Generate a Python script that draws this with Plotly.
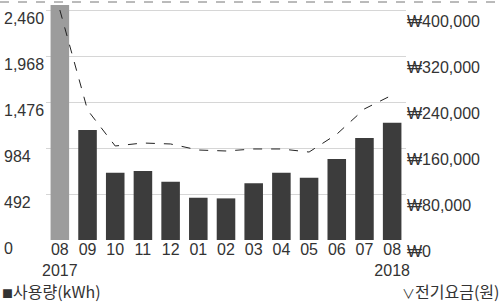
import plotly.graph_objects as go

# ---- data ----
months = ["08<br>2017", "09", "10", "11", "12", "01", "02", "03", "04", "05", "06", "07", "08<br>2018"]
usage_kwh = [2520, 1177, 720, 738, 624, 452, 445, 606, 720, 667, 866, 1091, 1255]
bill_won = [400000, 226000, 163500, 168700, 167000, 156500, 154800, 158300, 158300, 153000, 184000, 228000, 252000]
left_ticks = [0, 492, 984, 1476, 1968, 2460]
left_tick_text = ["0", "492", "984", "1,476", "1,968", "2,460"]
right_ticks = [0, 80000, 160000, 240000, 320000, 400000]
right_tick_text = ["₩0", "₩80,000", "₩160,000", "₩240,000", "₩320,000", "₩400,000"]
bar_colors = ["#9c9c9c"] + ["#3c3c3c"] * 12

W, H = 501, 303
T, B = 5, 63
plot_h = H - T - B
y_top = 2460 + (10 - T) * 2460 / (240 - 10)
y2_top = 400000 * y_top / 2460

x_idx = list(range(len(months)))

fig = go.Figure()
fig.add_trace(go.Bar(
    x=x_idx, y=usage_kwh, marker=dict(color=bar_colors, line=dict(width=0)),
    width=0.67, yaxis="y", showlegend=False,
))
fig.add_trace(go.Scatter(
    x=x_idx, y=bill_won, mode="lines", yaxis="y2",
    line=dict(color="#222222", width=1, dash="dash"), showlegend=False,
))

font_num = "Liberation Sans, Arial, sans-serif"
fig.update_layout(
    width=W, height=H,
    margin=dict(l=0, r=0, t=T, b=B, autoexpand=False),
    plot_bgcolor="white", paper_bgcolor="white",
    font=dict(family=font_num, size=16, color="#333333"),
    xaxis=dict(
        domain=[46 / W, 406 / W], range=[-0.5, 12.5], automargin=False,
        tickvals=x_idx, ticktext=months, tickangle=0, showgrid=False, zeroline=False,
        showline=False, ticks="", ticklabelstandoff=-2,
        tickfont=dict(size=16, color="#333333"),
    ),
    yaxis=dict(
        range=[0, y_top], tickvals=left_ticks, ticktext=left_tick_text, automargin=False,
        anchor="free", position=0, side="left", ticklabelposition="inside",
        ticklabeloverflow="allow",
        showgrid=True, gridcolor="#d6d6d6", gridwidth=1, zeroline=False,
        showline=False, ticks="", ticklabelshift=8,
        tickfont=dict(size=16, color="#333333"),
    ),
    yaxis2=dict(
        range=[0, y2_top], tickvals=right_ticks, ticktext=right_tick_text, automargin=False,
        overlaying="y", side="right", anchor="x", showgrid=False,
        ticklabeloverflow="allow",
        zeroline=False, showline=False, ticks="", ticklabelshift=11,
        tickfont=dict(size=16, color="#333333"),
    ),
)

# scanned page border dashed line at top
fig.add_shape(type="line", xref="paper", yref="paper", x0=0, x1=1,
              y0=(240 - 2) / plot_h, y1=(240 - 2) / plot_h,
              line=dict(color="#777777", width=1, dash="dash"))

kfont = "Noto Sans CJK KR, sans-serif"
fig.add_annotation(xref="paper", yref="paper", x=0, y=(240 - 291) / plot_h,
                   xanchor="left", yanchor="middle", showarrow=False,
                   text="<span style='font-size:11px'>■</span>사용량(kWh)",
                   font=dict(family=kfont, size=16, color="#333333"))
fig.add_annotation(xref="paper", yref="paper", x=1, y=(240 - 291) / plot_h,
                   xanchor="right", yanchor="middle", showarrow=False,
                   text="<span style='font-size:13px'>∨</span>전기요금(원)",
                   font=dict(family=kfont, size=16, color="#333333"))

fig.write_html("out.html", config={"displayModeBar": False},
               post_script="document.body.style.margin='0';")
